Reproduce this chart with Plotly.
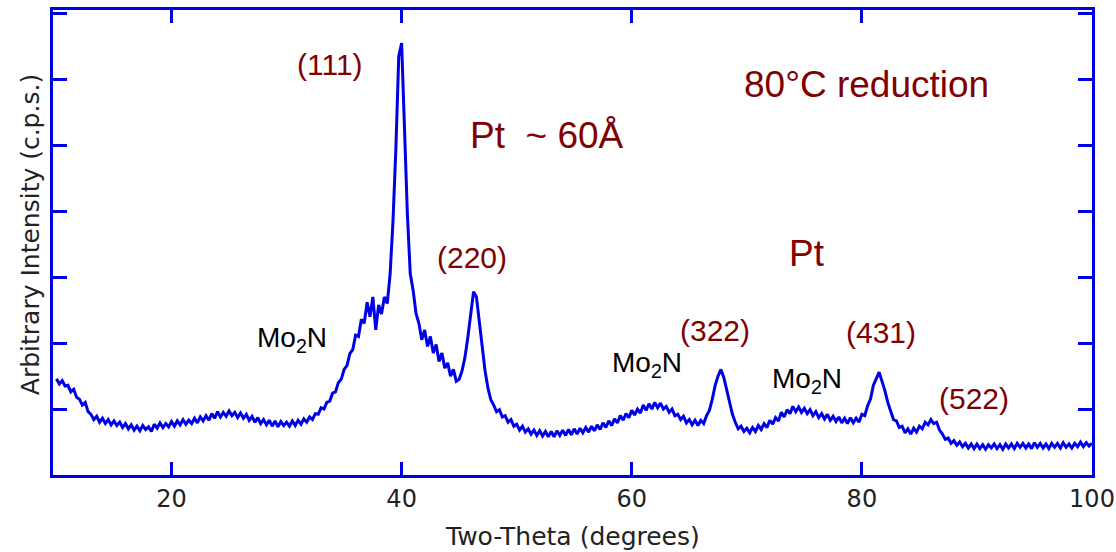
import numpy as np
import plotly.graph_objects as go

# Two-theta grid (degrees), 0.25 deg sampling from 10 to 100
two_theta = np.round(np.arange(10.0, 100.001, 0.25), 2)

# Intensity (arbitrary units), 4 values per degree
intensity = [
    1.46, 1.38, 1.43, 1.35,  # 10
    1.36, 1.26, 1.30, 1.18,  # 11
    1.15, 1.06, 1.10, 0.96,  # 12
    0.92, 0.84, 0.89, 0.80,  # 13
    0.86, 0.78, 0.84, 0.76,  # 14
    0.82, 0.75, 0.80, 0.72,  # 15
    0.78, 0.70, 0.76, 0.68,  # 16
    0.74, 0.67, 0.75, 0.69,  # 17
    0.73, 0.66, 0.77, 0.71,  # 18
    0.79, 0.72, 0.78, 0.73,  # 19
    0.81, 0.74, 0.82, 0.76,  # 20
    0.84, 0.77, 0.83, 0.78,  # 21
    0.86, 0.79, 0.88, 0.82,  # 22
    0.90, 0.83, 0.93, 0.86,  # 23
    0.96, 0.88, 0.95, 0.89,  # 24
    0.97, 0.90, 0.95, 0.87,  # 25
    0.94, 0.86, 0.92, 0.83,  # 26
    0.89, 0.80, 0.87, 0.78,  # 27
    0.84, 0.76, 0.83, 0.74,  # 28
    0.82, 0.73, 0.81, 0.75,  # 29
    0.80, 0.74, 0.82, 0.75,  # 30
    0.83, 0.77, 0.85, 0.80,  # 31
    0.88, 0.84, 0.93, 0.92,  # 32
    1.02, 1.00, 1.10, 1.12,  # 33
    1.24, 1.26, 1.40, 1.45,  # 34
    1.60, 1.66, 1.84, 1.90,  # 35
    2.12, 2.10, 2.36, 2.30,  # 36
    2.62, 2.40, 2.70, 2.20,  # 37
    2.58, 2.44, 2.70, 2.60,  # 38
    3.05, 3.85, 4.95, 6.35,  # 39
    6.55, 5.20, 3.95, 3.05,  # 40
    2.80, 2.45, 2.30, 2.05,  # 41
    2.20, 1.95, 2.10, 1.85,  # 42
    1.98, 1.72, 1.85, 1.62,  # 43
    1.70, 1.50, 1.60, 1.42,  # 44
    1.45, 1.58, 1.78, 2.08,  # 45
    2.40, 2.78, 2.70, 2.30,  # 46
    1.95, 1.58, 1.32, 1.14,  # 47
    1.06, 0.96, 0.99, 0.88,  # 48
    0.90, 0.80, 0.84, 0.74,  # 49
    0.77, 0.68, 0.74, 0.65,  # 50
    0.70, 0.62, 0.68, 0.60,  # 51
    0.67, 0.59, 0.66, 0.58,  # 52
    0.66, 0.58, 0.67, 0.60,  # 53
    0.68, 0.60, 0.69, 0.61,  # 54
    0.70, 0.62, 0.71, 0.64,  # 55
    0.72, 0.65, 0.74, 0.67,  # 56
    0.76, 0.69, 0.79, 0.72,  # 57
    0.82, 0.75, 0.85, 0.79,  # 58
    0.90, 0.83, 0.93, 0.87,  # 59
    0.98, 0.91, 1.00, 0.94,  # 60
    1.06, 0.98, 1.08, 1.00,  # 61
    1.10, 1.02, 1.09, 1.00,  # 62
    1.04, 0.95, 1.00, 0.90,  # 63
    0.92, 0.84, 0.89, 0.79,  # 64
    0.84, 0.76, 0.83, 0.75,  # 65
    0.83, 0.78, 0.90, 0.98,  # 66
    1.15, 1.36, 1.50, 1.60,  # 67
    1.48, 1.30, 1.08, 0.92,  # 68
    0.80, 0.70, 0.74, 0.66,  # 69
    0.71, 0.64, 0.72, 0.66,  # 70
    0.75, 0.69, 0.78, 0.72,  # 71
    0.83, 0.77, 0.87, 0.82,  # 72
    0.95, 0.88, 0.99, 0.93,  # 73
    1.04, 0.96, 1.03, 0.95,  # 74
    1.01, 0.93, 0.99, 0.90,  # 75
    0.96, 0.87, 0.93, 0.85,  # 76
    0.92, 0.83, 0.89, 0.81,  # 77
    0.88, 0.79, 0.86, 0.78,  # 78
    0.87, 0.79, 0.86, 0.80,  # 79
    0.92, 0.90, 1.05, 1.15,  # 80
    1.36, 1.45, 1.56, 1.42,  # 81
    1.28, 1.10, 0.98, 0.84,  # 82
    0.82, 0.72, 0.74, 0.64,  # 83
    0.70, 0.62, 0.71, 0.65,  # 84
    0.74, 0.70, 0.80, 0.76,  # 85
    0.84, 0.78, 0.80, 0.68,  # 86
    0.62, 0.54, 0.56, 0.48,  # 87
    0.52, 0.45, 0.50, 0.43,  # 88
    0.48, 0.41, 0.47, 0.40,  # 89
    0.47, 0.40, 0.46, 0.39,  # 90
    0.46, 0.41, 0.47, 0.40,  # 91
    0.46, 0.39, 0.47, 0.41,  # 92
    0.47, 0.40, 0.48, 0.42,  # 93
    0.48, 0.41, 0.47, 0.40,  # 94
    0.49, 0.42, 0.48, 0.41,  # 95
    0.47, 0.40, 0.48, 0.42,  # 96
    0.48, 0.41, 0.49, 0.42,  # 97
    0.47, 0.41, 0.48, 0.43,  # 98
    0.50, 0.43, 0.49, 0.44,  # 99
    0.48,                    # 100
]

x_ticks = [20, 40, 60, 80, 100]
y_ticks = [1, 2, 3, 4, 5, 6, 7]

# Peak labels
label_text = ["(111)", "Pt\u00a0\u00a0~ 60Å", "80°C reduction", "(220)", "Pt",
              "Mo<sub>2</sub>N", "(322)", "Mo<sub>2</sub>N", "(431)",
              "Mo<sub>2</sub>N", "(522)"]
label_x = [33.77, 52.66, 80.42, 46.10, 75.21, 30.47, 67.21, 61.31, 81.64, 75.21, 89.72]
label_y = [6.22, 5.15, 5.92, 3.30, 3.36, 2.05, 2.19, 1.68, 2.16, 1.44, 1.16]
label_kind = ["idx", "big", "big", "idx", "big", "mo", "idx", "mo", "idx", "mo", "idx"]

RED = "#800000"
BLUE = "#0000E6"
style = {
    "idx": dict(size=30, color=RED),
    "big": dict(size=37, color=RED),
    "mo": dict(size=28, color="black"),
}

fig = go.Figure()
fig.add_trace(go.Scatter(
    x=two_theta, y=intensity, mode="lines",
    line=dict(color=BLUE, width=3), showlegend=False, hoverinfo="skip",
))

annotations = []
for t, xx, yy, k in zip(label_text, label_x, label_y, label_kind):
    s = style[k]
    annotations.append(dict(
        x=xx, y=yy, xref="x", yref="y", text=t, showarrow=False,
        font=dict(family="Liberation Sans, Arial, sans-serif", size=s["size"], color=s["color"]),
        xanchor="center", yanchor="middle",
    ))

# axis titles
annotations.append(dict(
    x=0.5, y=-77 / 465, xref="paper", yref="paper", text="Two-Theta (degrees)",
    showarrow=False, xanchor="center", yanchor="bottom", yshift=-1,
    font=dict(family="DejaVu Sans, sans-serif", size=25, color="#222222"),
))
annotations.append(dict(
    x=-0.022, y=0.516, xref="paper", yref="paper", text="Arbitrary Intensity (c.p.s.)",
    showarrow=False, xanchor="center", yanchor="middle", textangle=-90,
    font=dict(family="DejaVu Sans, sans-serif", size=25, color="#222222"),
))

axis_common = dict(
    showline=True, linecolor=BLUE, linewidth=3, mirror="ticks",
    ticks="inside", tickcolor=BLUE, tickwidth=3,
    showgrid=False, zeroline=False, automargin=False,
)

fig.update_layout(
    width=1116, height=552,
    margin=dict(l=53, r=24, t=10, b=77),
    paper_bgcolor="white", plot_bgcolor="white",
    xaxis=dict(range=[9.7, 100], tickvals=x_ticks, ticklen=13,
               tickfont=dict(family="DejaVu Sans, sans-serif", size=24, color="#222222"),
               **axis_common),
    yaxis=dict(range=[0, 7.05], tickvals=y_ticks, ticklen=14, showticklabels=False,
               **axis_common),
    annotations=annotations,
)

fig.write_html("out.html")
